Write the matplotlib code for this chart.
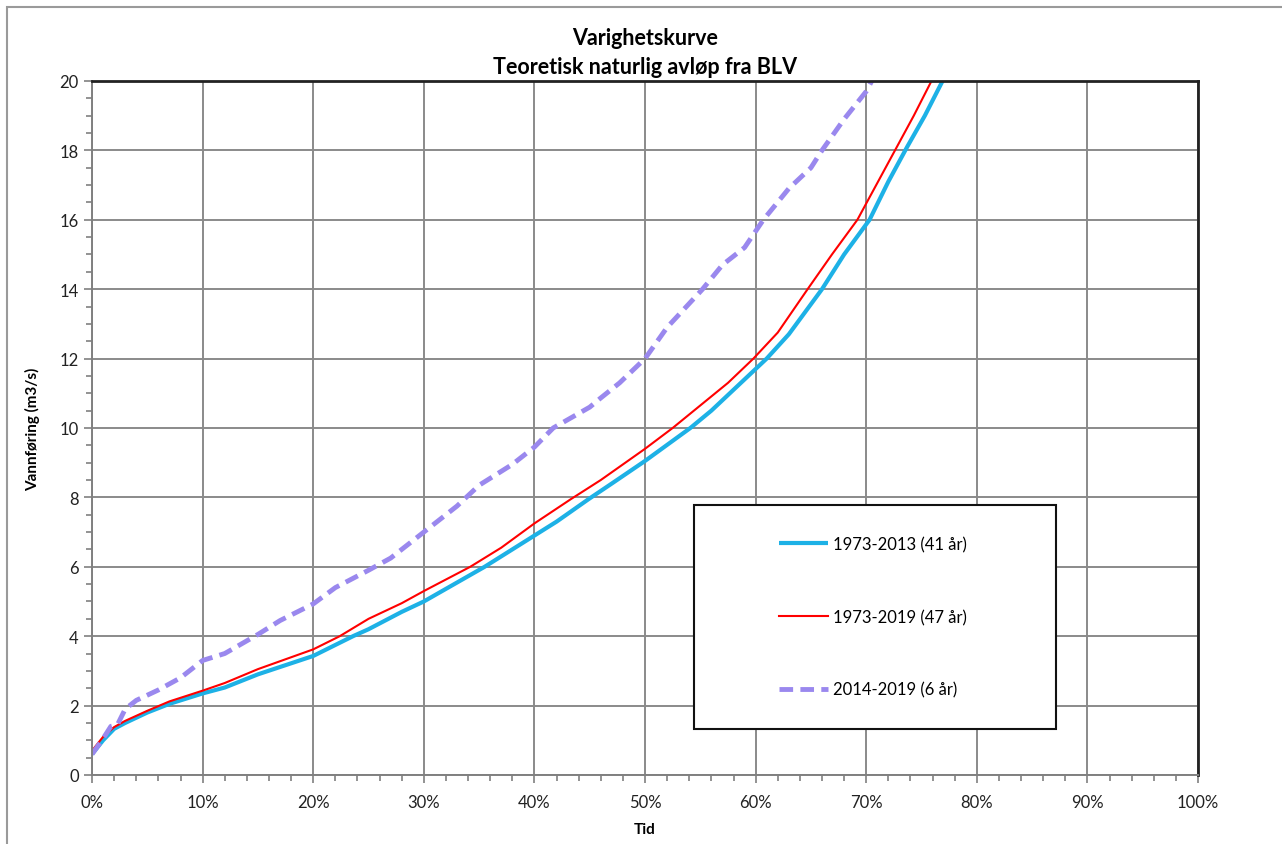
import matplotlib.pyplot as plt
import numpy as np
from matplotlib.patches import Rectangle
from matplotlib.ticker import MultipleLocator, PercentFormatter

plt.rcParams["font.family"] = ["Lato", "DejaVu Sans"]

# varighetskurver, tid i % og vannføring i m3/s
tid_4113 = [0, 1, 2, 3, 5, 7, 10, 12, 15, 20, 23.6, 25, 28, 30, 35.5, 38, 40, 42, 44.9,
            47, 50, 54.1, 56, 58, 61, 63, 66, 68, 70.3, 72, 73.7, 75.3, 76.9]
q_4113 = [0.6, 1.0, 1.33, 1.5, 1.8, 2.05, 2.35, 2.52, 2.9, 3.43, 4.0, 4.2, 4.7, 5.0, 6.0,
          6.5, 6.9, 7.3, 7.95, 8.4, 9.05, 10.0, 10.5, 11.1, 12.0, 12.7, 14.0, 15.0, 16.0,
          17.1, 18.1, 19.0, 20.0]

tid_4719 = [0, 1, 2, 3, 5, 7, 10, 12, 15, 20, 22.4, 25, 28, 30, 32.4, 34.2, 37, 40, 43.3,
            46, 50, 52.5, 55, 57.5, 59.8, 62, 64.7, 66.9, 69.2, 70.9, 72.6, 74.3, 75.9]
q_4719 = [0.7, 1.1, 1.38, 1.56, 1.85, 2.12, 2.43, 2.65, 3.05, 3.62, 4.0, 4.5, 4.95, 5.3,
          5.7, 6.0, 6.55, 7.25, 7.95, 8.5, 9.4, 10.0, 10.65, 11.3, 12.0, 12.75, 14.0, 15.0,
          16.0, 17.0, 18.0, 19.0, 20.0]

tid_1419 = [0, 1, 1.7, 2.3, 3, 4, 6, 8, 10, 12, 15, 17, 20, 22, 25, 27, 30, 33, 35, 38,
            40, 41.7, 45, 45.9, 47.7, 50, 52, 55.2, 57, 59, 60.7, 63, 65, 66, 68, 70, 70.5]
q_1419 = [0.6, 1.05, 1.4, 1.45, 1.9, 2.15, 2.45, 2.8, 3.3, 3.5, 4.05, 4.45, 4.93, 5.4,
          5.9, 6.25, 7.0, 7.75, 8.35, 8.95, 9.45, 10.0, 10.6, 10.84, 11.3, 12.0, 12.9,
          14.0, 14.7, 15.2, 16.0, 16.9, 17.5, 18.0, 18.9, 19.7, 20.0]

fig = plt.figure(figsize=(12.82, 8.45), dpi=100)
ax = fig.add_axes([0.0718, 0.0817, 0.8627, 0.8213])

ax.plot(tid_4113, q_4113, color="#1DB1E6", lw=3.0, label="1973-2013 (41 år)",
        solid_capstyle="butt")
ax.plot(tid_4719, q_4719, color="#FF0000", lw=1.5, label="1973-2019 (47 år)")
ax.plot(tid_1419, q_1419, color="#9A88EE", lw=3.5, ls=(0, (2.8, 1.5)),
        label="2014-2019 (6 år)")

ax.set_xlim(0, 100)
ax.set_ylim(0, 20)
ax.xaxis.set_major_locator(MultipleLocator(10))
ax.xaxis.set_minor_locator(MultipleLocator(2))
ax.yaxis.set_major_locator(MultipleLocator(2))
ax.yaxis.set_minor_locator(MultipleLocator(0.5))
ax.xaxis.set_major_formatter(PercentFormatter(decimals=0))
ax.grid(True, which="major", color="#8a8a8a", lw=1.4)
ax.set_axisbelow(True)
ax.tick_params(which="both", direction="out", colors="#808080", labelcolor="#222222",
               labelsize=12, width=1.2)
ax.tick_params(which="major", length=6)
ax.tick_params(which="minor", length=4)
ax.tick_params(axis="x", pad=8)
for s in ["left", "bottom"]:
    ax.spines[s].set_color("#808080")
    ax.spines[s].set_linewidth(1.4)
for s in ["top", "right"]:
    ax.spines[s].set_color("#222222")
    ax.spines[s].set_linewidth(2)

ax.set_xlabel("Tid", fontsize=11, fontweight="bold", labelpad=8)
ax.set_ylabel("Vannføring (m3/s)", fontsize=11, fontweight="bold", labelpad=14)
ax.set_title("Varighetskurve\nTeoretisk naturlig avløp fra BLV", fontsize=15.5,
             fontweight="bold", linespacing=1.45, pad=6)

ax.add_patch(Rectangle((0.544, 0.0663), 0.3276, 0.3227, transform=ax.transAxes,
                       facecolor="white", edgecolor="#111111", lw=1.5, zorder=4))
ax.legend(loc="center", bbox_to_anchor=(0.706, 0.2277), frameon=False, fontsize=12,
          labelspacing=3.4, handlelength=2.9, handletextpad=0.3).set_zorder(5)

fig.patches.append(Rectangle((7 / 1282, -0.1), 2, 1.1 - 8 / 845,
                             transform=fig.transFigure, fill=False,
                             edgecolor="#9a9a9a", lw=1.5))

fig.savefig("out.png", dpi=100)
